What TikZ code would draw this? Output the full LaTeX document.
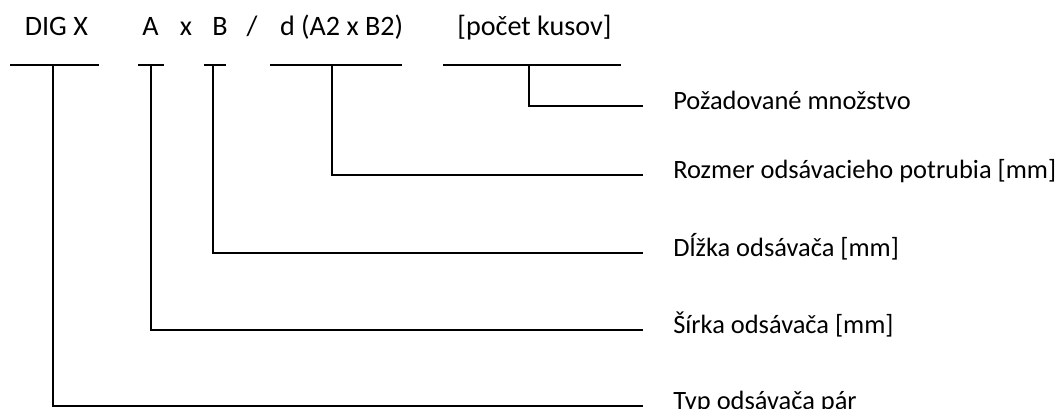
\documentclass[tikz,border=0pt]{standalone}
\usepackage{fontspec}
\setmainfont{Carlito}

\begin{document}
\begin{tikzpicture}[every node/.style={inner sep=0pt, font=\fontsize{20}{24}\selectfont},
		part/.style={anchor=base},
		desc/.style={anchor=mid west, inner xsep=0.75cm, font=\fontsize{18.8}{23}\selectfont},
		line/.style={line width=2.1pt}]
	\useasboundingbox (0,0) rectangle (26.475,10.225);
	% Code parts
	\node[part] (dig) at (1.41,9.325) {DIG X};
	\node[part] (width) at (3.76,9.325) {A};
	\node[part] (times) at (4.65,9.325) {x};
	\node[part] (length) at (5.5,9.325) {B};
	\node[part] (slash) at (6.3,9.325) {/};
	\node[part] (pipe) at (8.54,9.325) {d (A2 x B2)};
	\node[part] (count) at (13.36,9.325) {[počet kusov]};
	% Bars under the code
	\draw[line] (0.25,8.6) -- (2.475,8.6);
	\draw[line] (3.45,8.6) -- (4.1,8.6);
	\draw[line] (5.1,8.6) -- (5.65,8.6);
	\draw[line] (6.75,8.6) -- (10.05,8.6);
	\draw[line] (11.075,8.6) -- (15.525,8.6);
	\coordinate (digtop) at (1.325,8.6);
	\coordinate (widthtop) at (3.775,8.6);
	\coordinate (lengthtop) at (5.325,8.6);
	\coordinate (pipetop) at (8.3,8.6);
	\coordinate (counttop) at (13.225,8.6);
	% Descriptions
	\node[desc] (qty) at (16.075,7.575) {Požadované množstvo};
	\node[desc] (pipesize) at (16.075,5.85) {Rozmer odsávacieho potrubia [mm]};
	\node[desc] (len) at (16.075,3.9) {Dĺžka odsávača [mm]};
	\node[desc] (wid) at (16.075,1.975) {Šírka odsávača [mm]};
	\node[desc] (type) at (16.075,0.075) {Typ odsávača pár};
	% Connectors
	\draw[line] (counttop) |- (qty.mid west);
	\draw[line] (pipetop) |- (pipesize.mid west);
	\draw[line] (lengthtop) |- (len.mid west);
	\draw[line] (widthtop) |- (wid.mid west);
	\draw[line] (digtop) |- (type.mid west);
\end{tikzpicture}
\end{document}
